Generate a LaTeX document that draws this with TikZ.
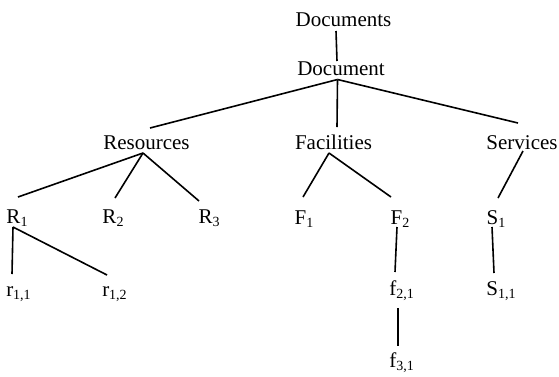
\documentclass[tikz,border=0pt]{standalone}
\usepackage{fontspec}
\setmainfont{Liberation Serif}
\usepackage{tikz}
\usetikzlibrary{positioning}

\newcommand{\lowidx}[1]{\raisebox{-3pt}{\fontsize{14}{14}\selectfont #1}}

\begin{document}
\begin{tikzpicture}[
    x=1pt, y=-1pt,
    item/.style={inner sep=0pt, anchor=base, font=\fontsize{21}{25}\selectfont},
    branch/.style={line width=1.6pt, black}
]
\useasboundingbox (0,0) rectangle (559,376);

% Root
\node[item] (docs) at (343.5, 26) {Documents};
\node[item] (doc) at (341, 75) {Document};

% Second level
\node[item] (res) at (146.5, 149) {Resources};
\node[item] (fac) at (333.5, 149) {Facilities};
\node[item] (ser) at (522, 149) {Services};

% Third level
\node[item] (r1) at (17, 223) {R\lowidx{1}};
\node[item] (r2) at (113, 223) {R\lowidx{2}};
\node[item] (r3) at (209, 223) {R\lowidx{3}};
\node[item] (f1) at (304, 224) {F\lowidx{1}};
\node[item] (f2) at (400, 224) {F\lowidx{2}};
\node[item] (s1) at (496, 224) {S\lowidx{1}};

% Leaves
\node[item] (r11) at (18.5, 296) {r\lowidx{1,1}};
\node[item] (r12) at (114.5, 296) {r\lowidx{1,2}};
\node[item] (f21) at (401.5, 295) {f\lowidx{2,1}};
\node[item] (s11) at (501, 295) {S\lowidx{1,1}};
\node[item] (f31) at (401.5, 367) {f\lowidx{3,1}};

% Branches from the root
\draw[branch] ([xshift=-7.5pt,yshift=-5pt]docs.base) -- ([xshift=-4pt,yshift=14pt]doc.base);
\draw[branch] ([xshift=-3.5pt,yshift=-4.5pt]doc.base) -- ([xshift=3.5pt,yshift=21pt]res.base);
\draw[branch] ([xshift=-3.5pt,yshift=-4.5pt]doc.base) -- ([xshift=3.5pt,yshift=22pt]fac.base);
\draw[branch] ([xshift=-3.5pt,yshift=-4.5pt]doc.base) -- ([xshift=-4pt,yshift=26pt]ser.base);

% Resources, Facilities, Services
\draw[branch] ([xshift=-3.5pt,yshift=-4pt]res.base) -- ([xshift=1pt,yshift=26pt]r1.base);
\draw[branch] ([xshift=-3.5pt,yshift=-4pt]res.base) -- ([xshift=2pt,yshift=25pt]r2.base);
\draw[branch] ([xshift=-3.5pt,yshift=-4pt]res.base) -- ([xshift=-10pt,yshift=22pt]r3.base);
\draw[branch] ([xshift=-4.5pt,yshift=-4pt]fac.base) -- ([xshift=-1pt,yshift=27pt]f1.base);
\draw[branch] ([xshift=-4.5pt,yshift=-4pt]fac.base) -- ([xshift=-9pt,yshift=27pt]f2.base);
\draw[branch] ([xshift=1pt,yshift=-2pt]ser.base) -- ([xshift=2pt,yshift=26pt]s1.base);

% Leaves
\draw[branch] ([xshift=-4pt,yshift=-4pt]r1.base) -- ([xshift=-6.5pt,yshift=22pt]r11.base);
\draw[branch] ([xshift=-4pt,yshift=-4pt]r1.base) -- ([xshift=-7.5pt,yshift=21pt]r12.base);
\draw[branch] ([xshift=-3pt,yshift=-3pt]f2.base) -- ([xshift=-6.5pt,yshift=23pt]f21.base);
\draw[branch] ([xshift=-3.5pt,yshift=-13pt]f21.base) -- ([xshift=-3.5pt,yshift=21pt]f31.base);
\draw[branch] ([xshift=-4pt,yshift=-3pt]s1.base) -- ([xshift=-7pt,yshift=22pt]s11.base);

\end{tikzpicture}
\end{document}
